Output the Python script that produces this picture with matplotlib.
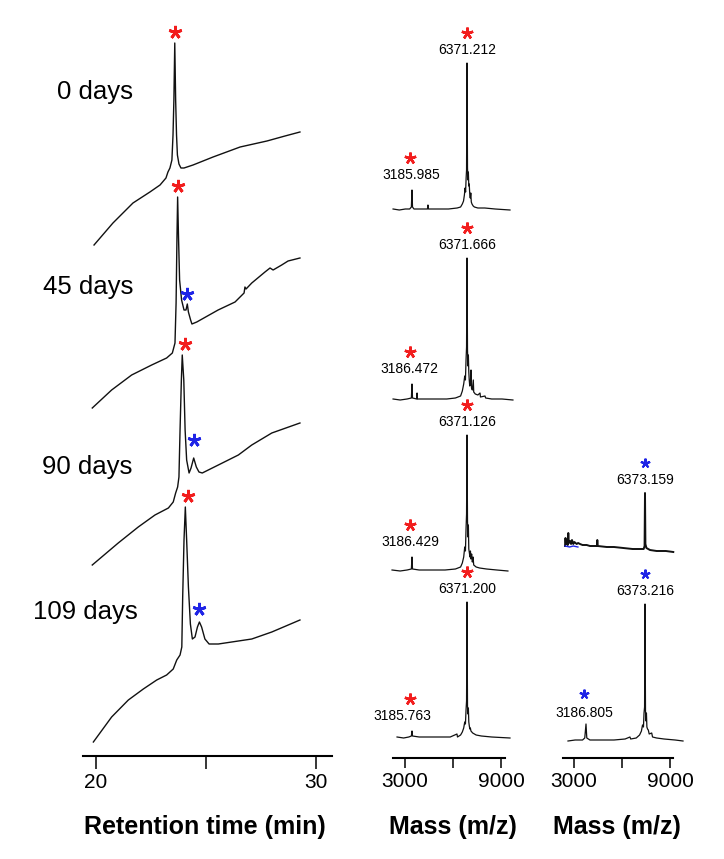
import numpy as np
import matplotlib
matplotlib.use('Agg')
import matplotlib.pyplot as plt

plt.rcParams['font.family'] = ['Liberation Sans', 'DejaVu Sans']

W, H = 724, 859
RED = '#f21d1d'
BLUE = '#1f24e6'

# ── HPLC traces: retention time [min] vs absorbance (arb. units) ─────────────
DAYS = ['0 days', '45 days', '90 days', '109 days']
TRACE_OFFSET = [511, 348, 191, 14]

T_0 = [19.91, 20.77, 21.68, 22.45, 22.91, 23.18, 23.27, 23.36, 23.45, 23.50, 23.54,
       23.58, 23.62, 23.66, 23.70, 23.77, 23.86, 24.00, 24.41, 25.32, 26.55, 27.77,
       28.59, 29.27]
A_0 = [0, 22, 42, 53, 60, 67, 73, 77, 85, 110, 145, 202, 145, 110, 90, 81, 77, 77,
       80, 88, 98, 104, 109, 113]

T_45 = [19.83, 20.71, 21.62, 22.53, 23.21, 23.47, 23.59, 23.64, 23.68, 23.71, 23.75,
        23.80, 23.89, 24.00, 24.09, 24.15, 24.20, 24.30, 24.36, 24.58, 25.55, 26.32,
        26.73, 26.77, 26.82, 27.08, 27.68, 27.91, 28.05, 28.44, 28.73, 29.27]
A_45 = [0, 18, 33, 43, 50, 55, 65, 105, 171, 211, 171, 128, 108, 98, 98, 104, 96, 88,
        84, 86, 98, 106, 115, 121, 119, 125, 136, 140, 138, 143, 147, 150]

T_90 = [19.83, 21.01, 21.92, 22.68, 23.29, 23.51, 23.62, 23.71, 23.77, 23.82, 23.88,
        23.92, 23.99, 24.05, 24.12, 24.23, 24.32, 24.44, 24.56, 24.68, 24.83, 25.56,
        26.47, 27.08, 27.99, 29.27]
A_90 = [0, 22, 38, 50, 57, 63, 72, 78, 88, 135, 185, 210, 185, 135, 105, 92, 97, 107,
        98, 93, 92, 100, 110, 120, 132, 142]

T_109 = [19.88, 20.71, 21.47, 22.15, 22.76, 23.21, 23.51, 23.67, 23.82, 23.90, 23.94,
         24.00, 24.06, 24.12, 24.20, 24.29, 24.38, 24.50, 24.61, 24.70, 24.80, 24.95,
         25.14, 25.56, 27.08, 27.99, 29.27]
A_109 = [0, 25, 42, 53, 62, 67, 73, 82, 87, 95, 145, 202, 235, 202, 155, 118, 103, 105,
         115, 120, 115, 103, 98, 98, 103, 110, 122]

TRACES = [(T_0, A_0), (T_45, A_45), (T_90, A_90), (T_109, A_109)]
RED_DT = [0.0, 0.02, 0.12, 0.12]          # red star shift from main peak
BLUE_T = [None, 24.15, 24.44, 24.70]       # degradation product peak
BLUE_GAP = [0, 10, 18, 13]
DAY_LABEL_T = [21.68, 21.68, 21.64, 21.91]
DAY_LABEL_Y = [657, 462, 282, 137]

# ── ESI-MS spectra: m/z vs intensity (arb. units) ─────────────────────────────
MID_OFFSET = [550, 360, 189, 22]
MID_MAIN = [6371, 6371, 6371, 6371]
MID_MAIN_TXT = ['6371.212', '6371.666', '6371.126', '6371.200']
MID_HALF = [3186, 3186, 3186, 3186]
MID_HALF_TXT = ['3185.985', '3186.472', '3186.429', '3185.763']
MID_HALF_DX = [-60, -170, -120, -580]

S0_MZ = [2090, 2450, 2800, 3050, 3150, 3186, 3215, 3300, 3700, 4080, 4110, 4140, 4700,
         5300, 5800, 6000, 6100, 6170, 6220, 6260, 6290, 6320, 6345, 6371, 6400, 6425,
         6450, 6475, 6500, 6530, 6560, 6590, 6620, 6660, 6730, 6800, 7000, 7400, 8000,
         8860]
S0_I = [1, 0, 1, 1, 3, 20, 3, 1, 1, 1, 5, 1, 1, 1, 2, 3, 6, 9, 15, 22, 18, 32, 40, 147,
        42, 30, 38, 24, 26, 16, 12, 17, 8, 6, 4, 3, 2, 2, 1, 0]

S1_MZ = [2090, 2500, 2900, 3150, 3186, 3215, 3460, 3480, 3500, 3800, 4500, 5200, 5700,
         6000, 6100, 6180, 6240, 6280, 6315, 6345, 6371, 6400, 6425, 6450, 6475, 6500,
         6530, 6570, 6603, 6630, 6680, 6736, 6760, 6850, 7000, 7124, 7150, 7413, 7450,
         7800, 8400, 9030]
S1_I = [1, 0, 1, 2, 16, 2, 1, 7, 1, 1, 1, 1, 2, 4, 9, 16, 24, 20, 40, 53, 142, 50, 34,
        45, 28, 20, 14, 18, 30, 12, 10, 20, 8, 6, 5, 7, 3, 4, 2, 1, 1, 0]

S2_MZ = [2030, 2500, 2900, 3150, 3186, 3215, 3600, 4300, 5100, 5700, 6000, 6100, 6180,
         6240, 6280, 6315, 6345, 6371, 6400, 6425, 6450, 6475, 6510, 6540, 6570, 6600,
         6640, 6680, 6720, 6760, 6900, 7100, 7500, 8100, 8740]
S2_I = [1, 0, 1, 2, 14, 2, 1, 1, 1, 2, 4, 8, 14, 24, 20, 42, 57, 136, 50, 34, 46, 22,
        18, 14, 20, 12, 17, 9, 14, 6, 4, 3, 2, 1, 0]

S3_MZ = [2320, 2700, 3000, 3150, 3186, 3215, 3600, 4200, 4900, 5400, 5790, 5820, 6000,
         6100, 6180, 6240, 6280, 6315, 6345, 6371, 6400, 6425, 6450, 6475, 6505, 6535,
         6565, 6600, 6700, 6900, 7200, 7800, 8860]
S3_I = [1, 0, 1, 2, 7, 2, 1, 1, 1, 1, 4, 1, 3, 6, 10, 16, 14, 28, 37, 136, 32, 24, 30,
        16, 12, 9, 10, 7, 5, 3, 2, 1, 0]

MID_SPECTRA = [(S0_MZ, S0_I), (S1_MZ, S1_I), (S2_MZ, S2_I), (S3_MZ, S3_I)]

RIGHT_OFFSET = [208, 19]
RIGHT_MAIN = [6373, 6373]
RIGHT_MAIN_TXT = ['6373.159', '6373.216']
RIGHT_HALF = [None, 3187]
RIGHT_HALF_TXT = [None, '3186.805']

R2_MZ = [2053, 2080, 2107, 2160, 2200, 2231, 2260, 2323, 2380, 2430, 2501, 2560, 2685,
         2760, 2863, 3000, 3225, 3400, 3600, 3780, 3797, 3820, 4305, 4700, 5201, 5700,
         6103, 6300, 6350, 6373, 6395, 6450, 6643, 7000, 7500, 7900]
R2_I = [6, 14, 8, 12, 7, 19, 9, 11, 8, 12, 8, 10, 8, 9, 8, 7, 7, 6, 6, 6, 12, 6, 5, 5,
        4, 3, 3, 3, 6, 59, 8, 4, 2, 1, 1, 0]
R2_BLUE_MZ = [2060, 2300, 2500, 2750]
R2_BLUE_I = [6, 5, 6, 5]

R3_MZ = [2215, 2600, 3000, 3120, 3187, 3230, 3400, 4000, 4700, 5300, 5560, 5600, 5900,
         6080, 6180, 6240, 6290, 6320, 6350, 6373, 6400, 6425, 6450, 6475, 6510, 6551,
         6600, 6735, 6780, 7000, 7400, 8000, 8425]
R3_I = [0, 1, 1, 3, 17, 3, 1, 1, 1, 2, 4, 2, 3, 6, 10, 16, 14, 28, 34, 137, 30, 20, 28,
        14, 12, 11, 7, 8, 4, 3, 2, 1, 0]

RIGHT_SPECTRA = [(R2_MZ, R2_I), (R3_MZ, R3_I)]

LBL_GAP = 13     # label above peak top
STAR_GAP = 30    # star above peak top


def px_axes(fig, x0, x1, y_top, y_bot):
    return fig.add_axes([x0 / W, 1 - y_bot / H, (x1 - x0) / W, (y_bot - y_top) / H])


def ruler(ax, ticks, labels, tick_len):
    for s in ['top', 'left', 'right']:
        ax.spines[s].set_visible(False)
    ax.spines['bottom'].set_linewidth(1.5)
    ax.set_yticks([])
    ax.set_xticks(ticks)
    ax.set_xticklabels(labels)
    ax.tick_params(axis='x', direction='out', length=tick_len, width=1.1,
                   labelsize=15, pad=2.5)
    ax.patch.set_visible(False)


def star(ax, x, y, color, size):
    ax.plot([x], [y], linestyle='none', marker=(5, 2, 0), ms=size,
            mew=size * 0.21, color=color, clip_on=False)


fig = plt.figure(figsize=(W / 100, H / 100), dpi=100)

# ── Left: chromatograms ──────────────────────────────────────────────────────
ax = px_axes(fig, 82.7, 332, 0, 756)
ax.set_xlim(19.395, 30.727)
ax.set_ylim(0, 756)
ruler(ax, [20, 25, 30], ['20', '', '30'], 9.5)

for i, (t, a) in enumerate(TRACES):
    t = np.array(t)
    a = np.array(a) + TRACE_OFFSET[i]
    ax.plot(t, a, color='#111111', lw=1.0, clip_on=False)
    k = np.argmax(a)
    star(ax, t[k] + RED_DT[i], a[k] + 11, RED, 9.5)
    if BLUE_T[i] is not None:
        j = np.argmin(np.abs(t - BLUE_T[i]))
        star(ax, t[j], a[j] + BLUE_GAP[i], BLUE, 9.5)
    ax.text(DAY_LABEL_T[i], DAY_LABEL_Y[i], DAYS[i], ha='right', va='baseline',
            fontsize=18.5)

fig.text(205 / W, 1 - 827 / H, 'Retention time (min)', ha='center', va='center',
         fontsize=18, fontweight='bold')

# ── Middle: mass spectra, 4 time points ─────────────────────────────────────
axm = px_axes(fig, 380, 530, 0, 760)
axm.set_xlim(1333, 10019)
axm.set_ylim(0, 760)
axm.axis('off')
for i, (mz, inten) in enumerate(MID_SPECTRA):
    y = np.array(inten) + MID_OFFSET[i]
    axm.plot(mz, y, color='#111111', lw=0.9)
    top = max(y)
    axm.text(MID_MAIN[i], top + LBL_GAP, MID_MAIN_TXT[i], ha='center', va='center',
             fontsize=10)
    star(axm, MID_MAIN[i], top + STAR_GAP, RED, 8.5)
    k = list(mz).index(MID_HALF[i])
    hy = y[k]
    axm.text(MID_HALF[i] + MID_HALF_DX[i], hy + LBL_GAP + 2, MID_HALF_TXT[i],
             ha='center', va='center', fontsize=10)
    star(axm, MID_HALF[i] - 100, hy + STAR_GAP + 2, RED, 8.5)

axmr = px_axes(fig, 393, 505, 748, 758)
axmr.set_xlim(2250, 9250)
ruler(axmr, [3000, 6000, 9000], ['3000', '', '9000'], 7.3)
fig.text(453 / W, 1 - 827 / H, 'Mass (m/z)', ha='center', va='center',
         fontsize=18, fontweight='bold')

# ── Right: mass spectra of the degradation product ──────────────────────────
axr = px_axes(fig, 550, 720, 0, 760)
axr.set_xlim(1243, 10423)
axr.set_ylim(0, 760)
axr.axis('off')
for i, (mz, inten) in enumerate(RIGHT_SPECTRA):
    y = np.array(inten) + RIGHT_OFFSET[i]
    axr.plot(mz, y, color='#111111', lw=0.9 if i else 1.4)
    top = max(y)
    axr.text(RIGHT_MAIN[i], top + LBL_GAP, RIGHT_MAIN_TXT[i], ha='center',
             va='center', fontsize=10)
    star(axr, RIGHT_MAIN[i], top + STAR_GAP, BLUE, 7)
    if RIGHT_HALF[i] is not None:
        k = list(mz).index(RIGHT_HALF[i])
        hy = y[k]
        axr.text(RIGHT_HALF[i] - 100, hy + LBL_GAP - 2, RIGHT_HALF_TXT[i],
                 ha='center', va='center', fontsize=10)
        star(axr, RIGHT_HALF[i] - 100, hy + STAR_GAP, BLUE, 7)
axr.plot(R2_BLUE_MZ, np.array(R2_BLUE_I) + RIGHT_OFFSET[0], color=BLUE, lw=1.0)

axrr = px_axes(fig, 563, 673, 748, 758)
axrr.set_xlim(2312, 9188)
ruler(axrr, [3000, 6000, 9000], ['3000', '', '9000'], 7.3)
fig.text(617 / W, 1 - 827 / H, 'Mass (m/z)', ha='center', va='center',
         fontsize=18, fontweight='bold')

fig.savefig('out.png', dpi=100)
